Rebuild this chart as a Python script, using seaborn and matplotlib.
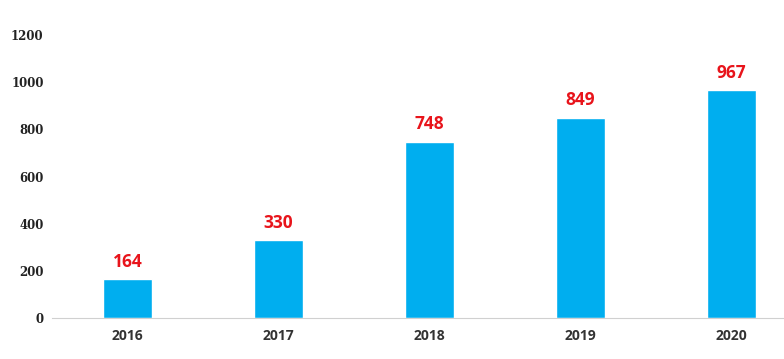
import matplotlib
matplotlib.use("Agg")
import matplotlib.pyplot as plt
import pandas as pd
import seaborn as sns

years = ["2016", "2017", "2018", "2019", "2020"]
counts = [164, 330, 748, 849, 967]
y_ticks = [0, 200, 400, 600, 800, 1000, 1200]

BAR_COLOR = "#00aeef"
LABEL_COLOR = "#e8141b"

sns.set_theme(style="white")
plt.rcParams["font.family"] = ["Open Sans", "DejaVu Sans"]

df = pd.DataFrame({"year": years, "count": counts})

fig = plt.figure(figsize=(7.84, 3.59), dpi=100)
ax = fig.add_axes([52 / 784, 41 / 359, 755 / 784, 283 / 359])

sns.barplot(data=df, x="year", y="count", color=BAR_COLOR, width=0.32,
            saturation=1, ax=ax)

for i, v in enumerate(counts):
    ax.annotate(str(v), (i, v), xytext=(0, 6), textcoords="offset points",
                ha="center", va="bottom", color=LABEL_COLOR,
                fontsize=12.5, fontweight="bold")

ax.set_ylim(0, 1200)
ax.set_yticks(y_ticks)
ax.set_yticklabels([str(t) for t in y_ticks], fontsize=8.5, fontweight="bold",
                   family="DejaVu Serif", color="#222222")
ax.set_xlim(-0.5, len(years) - 0.5)
ax.set_xticks(range(len(years)))
ax.set_xticklabels(years, fontsize=10, fontweight="bold", color="#333333")
ax.set_xticks([i - 0.5 for i in range(len(years) + 1)], minor=True)
ax.tick_params(axis="x", which="major", length=0, pad=8)
ax.tick_params(axis="x", which="minor", length=5, color="#d0d0d0", width=0.8)
ax.tick_params(axis="y", length=0, pad=6)
ax.set_xlabel("")
ax.set_ylabel("")

for side in ["top", "right", "left"]:
    ax.spines[side].set_visible(False)
ax.spines["bottom"].set_color("#d0d0d0")
ax.spines["bottom"].set_linewidth(0.8)

fig.savefig("out.png", dpi=100)
plt.close(fig)
